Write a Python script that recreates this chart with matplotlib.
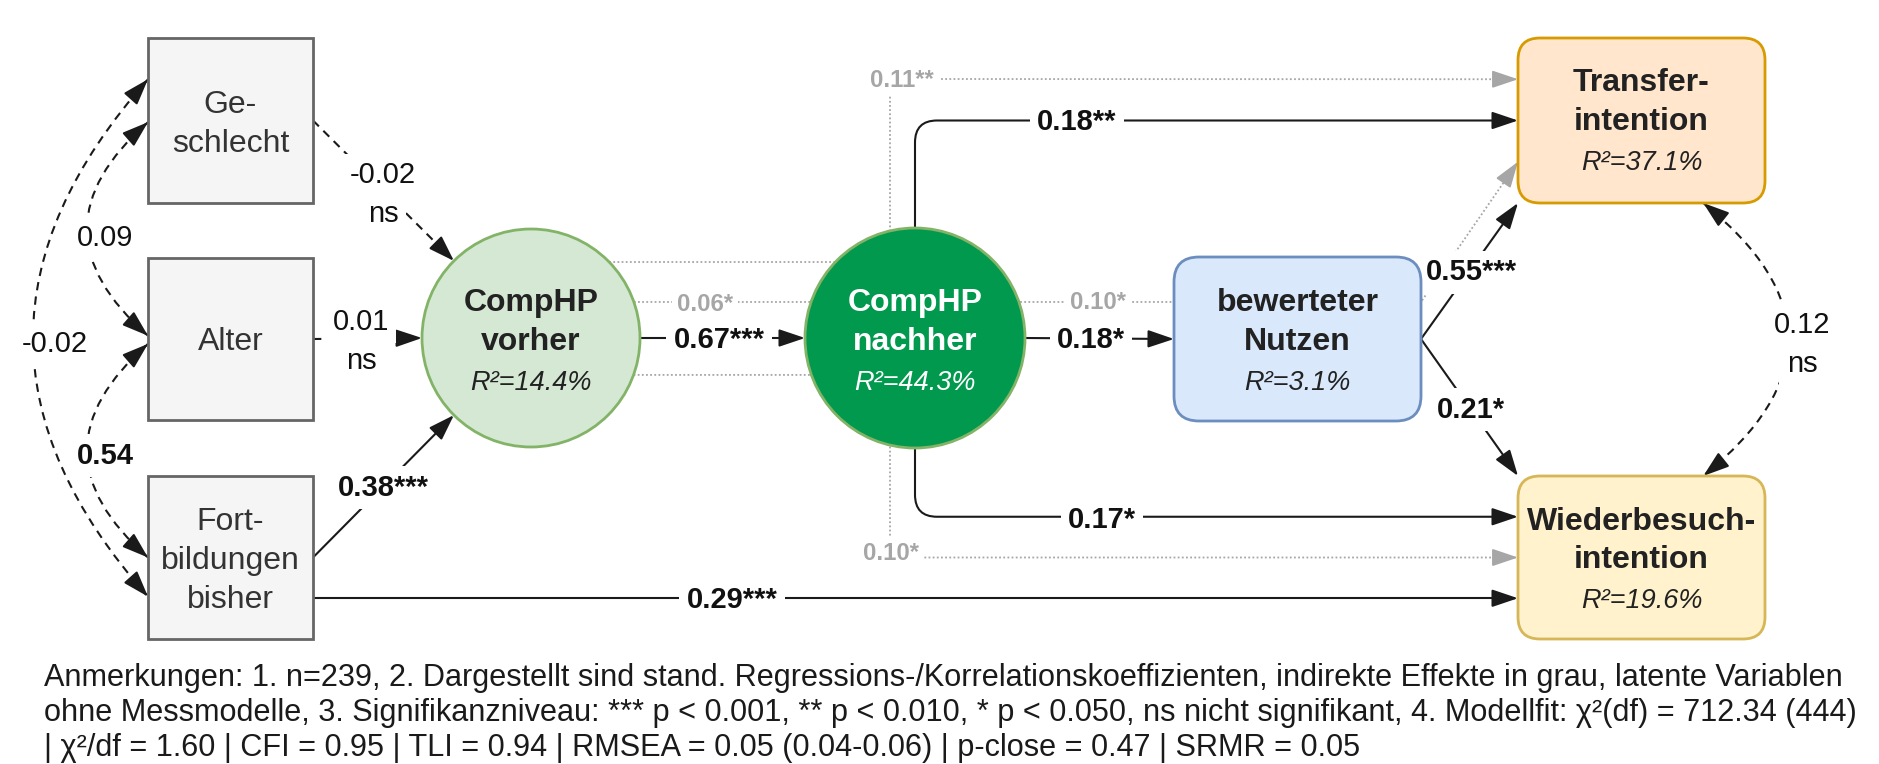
import numpy as np
import matplotlib
matplotlib.use("Agg")
import matplotlib.pyplot as plt
from matplotlib.patches import Rectangle, Circle, FancyBboxPatch, PathPatch, FancyArrowPatch
from matplotlib.path import Path

plt.rcParams['font.family'] = ['Liberation Sans', 'DejaVu Sans']

# ---- data ----
node_keys = ["ges", "alt", "fort", "vor", "nach", "nutz", "trans", "wied"]
node_names = ["Ge-\nschlecht", "Alter", "Fort-\nbildungen\nbisher", "CompHP\nvorher",
              "CompHP\nnachher", "bewerteter\nNutzen", "Transfer-\nintention",
              "Wiederbesuch-\nintention"]
node_r2 = ["", "", "", "14.4", "44.3", "3.1", "37.1", "19.6"]

# direct effects
path_from = ["ges", "alt", "fort", "vor", "nach", "nach", "nach", "nutz", "nutz", "fort"]
path_to = ["vor", "vor", "vor", "nach", "nutz", "trans", "wied", "trans", "wied", "wied"]
path_coef = ["-0.02", "0.01", "0.38", "0.67", "0.18", "0.18", "0.17", "0.55", "0.21", "0.29"]
path_sig = ["ns", "ns", "***", "***", "*", "**", "*", "***", "*", "***"]

# correlations
corr_a = ["ges", "alt", "ges", "trans"]
corr_b = ["alt", "fort", "fort", "wied"]
corr_coef = ["0.09", "0.54", "-0.02", "0.12"]
corr_sig = ["", "", "", "ns"]
corr_bold = [False, True, False, False]

# indirect effects (grey)
ind_coef = ["0.11**", "0.10*", "0.06*", "0.10*"]

notes = ["Anmerkungen: 1. n=239, 2. Dargestellt sind stand. Regressions-/Korrelationskoeffizienten, indirekte Effekte in grau, latente Variablen",
         "ohne Messmodelle, 3. Signifikanzniveau: *** p < 0.001, ** p < 0.010, * p < 0.050, ns nicht signifikant, 4. Modellfit: χ²(df) = 712.34 (444)",
         "| χ²/df = 1.60 | CFI = 0.95 | TLI = 0.94 | RMSEA = 0.05 (0.04-0.06) | p-close = 0.47 | SRMR = 0.05"]

# ---- layout (pixels) ----
box = {"ges": (148, 38, 165, 165, 0), "alt": (148, 258, 165, 162, 0),
       "fort": (148, 476, 165, 163, 0), "nutz": (1174, 257, 247, 164, 25),
       "trans": (1518, 38, 247, 165, 22), "wied": (1518, 476, 247, 163, 22)}
circ = {"vor": (531, 338, 109), "nach": (915, 338, 110)}
fill = {"ges": "#f5f5f5", "alt": "#f5f5f5", "fort": "#f5f5f5", "vor": "#d5e8d4",
        "nach": "#00994d", "nutz": "#dae8fc", "trans": "#ffe6cc", "wied": "#fff2cc"}
edge = {"ges": "#666666", "alt": "#666666", "fort": "#666666", "vor": "#82b366",
        "nach": "#82b366", "nutz": "#6c8ebf", "trans": "#d79b00", "wied": "#d6b656"}
name_y = {"ges": 121, "alt": 338, "fort": 557.5, "vor": 319, "nach": 319,
          "nutz": 319, "trans": 99, "wied": 537.5}
r2_y = {"vor": 380, "nach": 380, "nutz": 380, "trans": 160, "wied": 598}

BLACK = "#1a1a1a"
GREY = "#a6a6a6"
HEAD = "-|>,head_length=0.8,head_width=0.27"

fig = plt.figure(figsize=(18.79, 7.64), dpi=100)
ax = fig.add_axes([0, 0, 1, 1])
ax.set_xlim(0, 1879)
ax.set_ylim(764, 0)
ax.axis('off')


def bx(k, fx, fy):
    x0, y0, w, h, _ = box[k]
    return (x0 + fx * w, y0 + fy * h)


def cp(k, ang):
    cx, cy, r = circ[k]
    a = np.radians(ang)
    return (cx + r * np.cos(a), cy + r * np.sin(a))


def center(k):
    if k in circ:
        return circ[k][0]
    x0, y0, w, h, _ = box[k]
    return x0 + w / 2


def head(tip, frm, color, lw=1.5):
    tip = np.array(tip, float)
    u = tip - np.array(frm, float)
    u /= np.linalg.norm(u)
    ax.add_patch(FancyArrowPatch(tip - u * 23, tip, arrowstyle=HEAD, mutation_scale=20,
                                 color=color, lw=lw, shrinkA=0, shrinkB=0, zorder=3))


def poly(pts, r=0, color=BLACK, lw=1.5, ls='-', arrow=True, z=2):
    pts = [np.array(p, float) for p in pts]
    if arrow:
        u = pts[-1] - pts[-2]
        u /= np.linalg.norm(u)
        tip = pts[-1]
        pts[-1] = tip - u * 6
    verts = [pts[0]]
    codes = [Path.MOVETO]
    for i in range(1, len(pts) - 1):
        p0, p1, p2 = pts[i - 1], pts[i], pts[i + 1]
        u1 = (p1 - p0) / np.linalg.norm(p1 - p0)
        u2 = (p2 - p1) / np.linalg.norm(p2 - p1)
        verts += [p1 - u1 * r, p1, p1 + u2 * r]
        codes += [Path.LINETO, Path.CURVE3, Path.CURVE3]
    verts.append(pts[-1])
    codes.append(Path.LINETO)
    ax.add_patch(PathPatch(Path(verts, codes), fill=False, ec=color, lw=lw, ls=ls,
                           capstyle='butt', zorder=z))
    if arrow:
        head(tip, pts[-2], color, lw)


def arc(p0, p2, bulge, color=BLACK, lw=1.5):
    p0 = np.array(p0, float)
    p2 = np.array(p2, float)
    c = (p0 + p2) / 2 + np.array([2 * bulge, 0])
    ax.add_patch(PathPatch(Path([p0, c, p2], [Path.MOVETO, Path.CURVE3, Path.CURVE3]),
                           fill=False, ec=color, lw=lw, ls=(0, (4, 3)), capstyle='butt', zorder=2))
    head(p0, c, color, lw)
    head(p2, c, color, lw)


def label(x, y, s, fs=21, bold=False, color="#111111", pitch=39, bg=True, style='normal', z=5, pad=0.25):
    lines = s.split("\n")
    em = fs * 100 / 72
    for i, t in enumerate(lines):
        yy = y + (i - (len(lines) - 1) / 2) * pitch + 0.36 * em
        ax.text(x, yy, t, fontsize=fs, fontweight='bold' if bold else 'normal', fontstyle=style,
                color=color, ha='center', va='baseline', zorder=z,
                bbox=dict(boxstyle='square,pad=%.2f' % pad, fc='white', ec='none') if bg else None)


# ---- indirect effects (grey dotted) ----
ind_x = 890
dot = (0, (1, 1.3))
pA = cp("vor", -44.2)
poly([pA, (ind_x, pA[1]), (ind_x, 79), bx("trans", 0, 0.25)], color=GREY, lw=1.3, ls=dot, z=1)
pB = cp("vor", 19.8)
poly([pB, (ind_x, pB[1]), (ind_x, 557.5), bx("wied", 0, 0.5)], color=GREY, lw=1.3, ls=dot, z=1)
pC = cp("vor", -19.3)
poly([pC, (1421, pC[1]), bx("trans", 0, 0.75)], color=GREY, lw=1.3, ls=dot, z=1)
ind_pos = [(902, 78), (891, 551), (705, 302), (1098, 300)]
for s, (x, y) in zip(ind_coef, ind_pos):
    label(x, y, s, fs=17.3, bold=True, color=GREY, pad=0.2)

# ---- direct effects ----
geo = [
    [bx("ges", 1, 0.5), cp("vor", 225)],
    [bx("alt", 1, 0.5), cp("vor", 180)],
    [bx("fort", 1, 0.5), cp("vor", 135)],
    [cp("vor", 0), cp("nach", 180)],
    [cp("nach", 0), bx("nutz", 0, 0.5)],
    [cp("nach", 270), (circ["nach"][0], bx("trans", 0, 0.5)[1]), bx("trans", 0, 0.5)],
    [cp("nach", 90), (circ["nach"][0], bx("wied", 0, 0.25)[1]), bx("wied", 0, 0.25)],
    [bx("nutz", 1, 0.5), bx("trans", 0, 1)],
    [bx("nutz", 1, 0.5), bx("wied", 0, 0)],
    [bx("fort", 1, 0.75), bx("wied", 0, 0.75)],
]
lab_pos = [(383, 192), (361, 339), (383, 485), (719, 338), (1091, 338),
           (1077, 120), (1102, 517), (1471, 270), (1471, 407), (732, 598)]
for pts, c, s, (x, y) in zip(geo, path_coef, path_sig, lab_pos):
    ns = s == "ns"
    poly(pts, r=22, ls=(0, (4, 3)) if ns else '-')
    if ns:
        label(x, y, c + "\n" + s)
    else:
        label(x, y, c + s, bold=True)

# ---- correlations ----
cgeo = [(bx("ges", 0, 0.51), bx("alt", 0, 0.48), -61),
        (bx("alt", 0, 0.53), bx("fort", 0, 0.5), -61),
        (bx("ges", 0, 0.25), bx("fort", 0, 0.74), -115),
        (bx("trans", 0.75, 1), bx("wied", 0.75, 0), 85)]
clab = [(105, 235), (105, 453), (55, 342), (1802, 342)]
for (a, b, bul), c, s, bd, (x, y) in zip(cgeo, corr_coef, corr_sig, corr_bold, clab):
    arc(a, b, bul)
    label(x, y, c + ("\n" + s if s else ""), bold=bd)

# ---- nodes ----
for k, name, r2 in zip(node_keys, node_names, node_r2):
    if k in circ:
        cx, cy, r = circ[k]
        ax.add_patch(Circle((cx, cy), r, fc=fill[k], ec=edge[k], lw=2, zorder=6))
    else:
        x0, y0, w, h, rr = box[k]
        if rr:
            ax.add_patch(FancyBboxPatch((x0, y0), w, h, boxstyle="round,pad=0,rounding_size=%d" % rr,
                                        fc=fill[k], ec=edge[k], lw=2, zorder=6))
        else:
            ax.add_patch(Rectangle((x0, y0), w, h, fc=fill[k], ec=edge[k], lw=2, zorder=6))
    txt = "white" if k == "nach" else "#222222"
    if r2:
        label(center(k), name_y[k], name, fs=23, bold=True, color=txt, pitch=38.5, bg=False, z=7)
        label(center(k), r2_y[k], "R²=" + r2 + "%", fs=19.5, color=txt, bg=False, style='italic', z=7)
    else:
        label(center(k), name_y[k], name, fs=23, color="#333333", pitch=39, bg=False, z=7)

# ---- notes ----
for i, t in enumerate(notes):
    ax.text(44, 686 + i * 35, t, fontsize=22.1, color=BLACK, ha='left', va='baseline')

fig.savefig("out.png", dpi=100)
